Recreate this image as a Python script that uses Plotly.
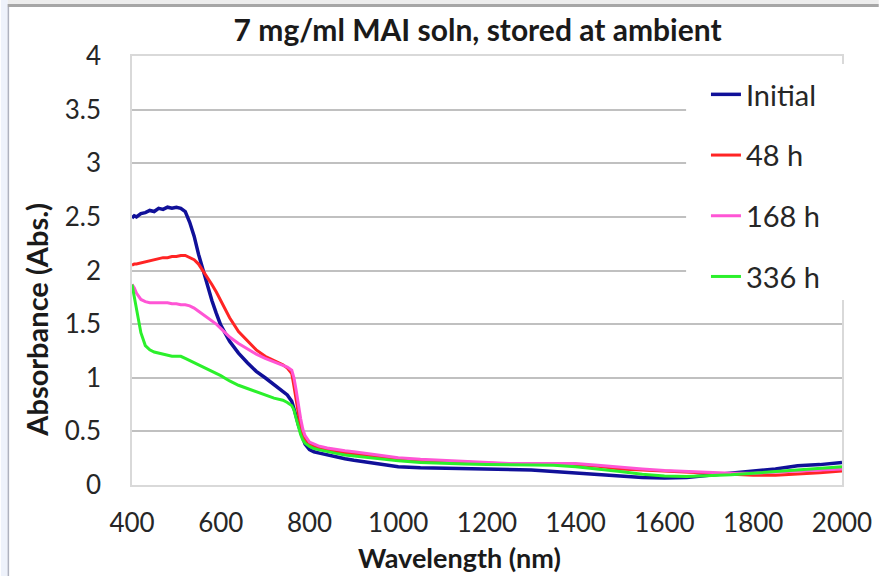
import plotly.graph_objects as go

# ---------------- data ----------------
wavelength = [400, 405, 410, 420, 430, 440, 450, 460, 470, 480, 490, 500, 510, 520, 530, 540,
              550, 560, 570, 580, 590, 600, 620, 640, 660, 680, 700, 720, 740, 750, 760, 765,
              770, 775, 780, 785, 790, 800, 810, 820, 840, 860, 880, 900, 950, 1000, 1050,
              1100, 1150, 1200, 1250, 1300, 1350, 1400, 1450, 1500, 1550, 1600, 1650, 1700,
              1750, 1800, 1850, 1900, 1950, 2000]

abs_initial = [2.49, 2.51, 2.50, 2.53, 2.54, 2.56, 2.55, 2.58, 2.57, 2.59, 2.58, 2.59, 2.58, 2.55, 2.45, 2.32,
               2.15, 2.00, 1.86, 1.72, 1.60, 1.49, 1.34, 1.23, 1.14, 1.06, 1.00, 0.94, 0.88, 0.84, 0.78, 0.72,
               0.64, 0.56, 0.50, 0.43, 0.38, 0.33, 0.31, 0.30, 0.28, 0.26, 0.245, 0.23, 0.20, 0.17, 0.16,
               0.155, 0.15, 0.145, 0.14, 0.14, 0.125, 0.11, 0.095, 0.08, 0.07, 0.065, 0.07, 0.09,
               0.11, 0.13, 0.15, 0.18, 0.19, 0.21]

abs_48h = [2.05, 2.06, 2.06, 2.07, 2.08, 2.09, 2.10, 2.11, 2.12, 2.12, 2.13, 2.13, 2.14, 2.14, 2.12, 2.10,
           2.06, 2.00, 1.94, 1.87, 1.80, 1.72, 1.56, 1.43, 1.34, 1.26, 1.20, 1.16, 1.12, 1.09, 1.04, 0.92,
           0.78, 0.64, 0.54, 0.47, 0.42, 0.38, 0.36, 0.35, 0.33, 0.315, 0.30, 0.29, 0.265, 0.245, 0.23,
           0.22, 0.21, 0.20, 0.195, 0.19, 0.19, 0.19, 0.175, 0.15, 0.14, 0.13, 0.12, 0.11,
           0.10, 0.09, 0.09, 0.10, 0.115, 0.13]

abs_168h = [1.87, 1.84, 1.79, 1.73, 1.71, 1.70, 1.70, 1.70, 1.70, 1.70, 1.69, 1.69, 1.68, 1.68, 1.67, 1.65,
            1.62, 1.59, 1.56, 1.53, 1.50, 1.46, 1.38, 1.32, 1.27, 1.22, 1.18, 1.15, 1.12, 1.10, 1.07, 1.00,
            0.88, 0.74, 0.62, 0.52, 0.46, 0.40, 0.38, 0.365, 0.345, 0.33, 0.32, 0.31, 0.28, 0.255, 0.24,
            0.23, 0.215, 0.205, 0.20, 0.20, 0.20, 0.20, 0.185, 0.165, 0.15, 0.135, 0.125, 0.115,
            0.11, 0.11, 0.12, 0.13, 0.14, 0.15]

abs_336h = [1.87, 1.75, 1.62, 1.42, 1.30, 1.26, 1.24, 1.23, 1.22, 1.21, 1.20, 1.20, 1.20, 1.18, 1.16, 1.14,
            1.12, 1.10, 1.08, 1.06, 1.04, 1.02, 0.97, 0.93, 0.90, 0.87, 0.84, 0.81, 0.79, 0.77, 0.74, 0.70,
            0.62, 0.54, 0.47, 0.42, 0.39, 0.36, 0.34, 0.33, 0.31, 0.295, 0.28, 0.27, 0.245, 0.225, 0.21,
            0.20, 0.195, 0.19, 0.19, 0.19, 0.185, 0.17, 0.15, 0.125, 0.10, 0.085, 0.08, 0.085,
            0.095, 0.11, 0.125, 0.145, 0.16, 0.17]

series_names = ["Initial", "48 h", "168 h", "336 h"]
series_values = [abs_initial, abs_48h, abs_168h, abs_336h]
series_colors = ["#101099", "#ff2424", "#ff55d5", "#2bf02b"]
series_widths = [3.5, 3, 3, 3]

x_ticks = [400, 600, 800, 1000, 1200, 1400, 1600, 1800, 2000]
y_ticks = [0, 0.5, 1, 1.5, 2, 2.5, 3, 3.5, 4]
y_tick_labels = ["0", "0.5", "1", "1.5", "2", "2.5", "3", "3.5", "4"]

title_text = "7 mg/ml MAI soln, stored at ambient"
x_title = "Wavelength (nm)"
y_title = "Absorbance (Abs.)"

# ---------------- layout geometry ----------------
W, H = 884, 576
L, R, T, B = 132, 847, 56, 485  # plot area in pixels


def px_x(p):
    return (p - L) / (R - L)


def px_y(p):
    return (B - p) / (B - T)


FONT = "Lato"
TEXT = "#262626"

fig = go.Figure()
for i, (name, vals, col, w) in enumerate(zip(series_names, series_values, series_colors, series_widths)):
    fig.add_trace(go.Scatter(x=wavelength, y=vals, mode="lines", name=name,
                             legendgroup=f"g{i}",
                             line=dict(color=col, width=w)))

fig.update_layout(
    width=W, height=H,
    margin=dict(l=L, r=W - R, t=T, b=H - B),
    paper_bgcolor="white", plot_bgcolor="white",
    font=dict(family=FONT, color=TEXT, size=26),
    showlegend=True,
    legend=dict(x=px_x(710), y=px_y(69), xanchor="left", yanchor="top",
                bgcolor="rgba(0,0,0,0)", borderwidth=0,
                font=dict(family=FONT, size=29, color=TEXT),
                tracegroupgap=20, itemwidth=30),
    title=dict(text=title_text, x=px_x(480), xref="paper", xanchor="center",
               y=1 - 30 / H, yref="container", yanchor="middle",
               font=dict(family=FONT, size=30, color="#1a1a1a", weight="bold")),
)

fig.update_xaxes(range=[400, 2000], tickvals=x_ticks, showgrid=False, zeroline=False,
                 showline=True, linecolor="#d9d9d9", linewidth=1.5, mirror=True,
                 ticks="", ticklabelstandoff=14,
                 tickfont=dict(family=FONT, size=26, color=TEXT))
fig.update_yaxes(range=[0, 4], tickvals=y_ticks, ticktext=y_tick_labels,
                 showgrid=True, gridcolor="#c0c0c0", gridwidth=1.8, zeroline=False,
                 showline=True, linecolor="#d9d9d9", linewidth=1.5, mirror=True,
                 ticks="", ticklabelstandoff=24,
                 tickfont=dict(family=FONT, size=26, color=TEXT))

# axis titles
fig.add_annotation(text=f"<b>{x_title}</b>", xref="paper", yref="paper",
                   x=px_x(462), y=px_y(557), xanchor="center", yanchor="middle",
                   showarrow=False, font=dict(family=FONT, size=27, color="#1a1a1a"))
fig.add_annotation(text=f"<b>{y_title}</b>", xref="paper", yref="paper",
                   x=px_x(35), y=px_y(320), xanchor="center", yanchor="middle",
                   textangle=-90, showarrow=False, font=dict(family=FONT, size=29, color="#1a1a1a"))

# white box behind legend (covers gridlines and frame as in reference)
fig.add_shape(type="rect", xref="paper", yref="paper", layer="above",
              x0=px_x(690), x1=px_x(852), y0=px_y(300), y1=px_y(64),
              fillcolor="white", line=dict(width=0))

# page decorations: left band and top rule
fig.add_shape(type="rect", xref="paper", yref="paper", layer="above",
              x0=px_x(0), x1=px_x(7), y0=px_y(H), y1=px_y(0),
              fillcolor="#eef2fb", line=dict(width=0))
fig.add_shape(type="line", xref="paper", yref="paper", layer="above",
              x0=px_x(7.5), x1=px_x(7.5), y0=px_y(H), y1=px_y(4),
              line=dict(color="#aeb2bf", width=1.5))
fig.add_shape(type="rect", xref="paper", yref="paper", layer="above",
              x0=px_x(7), x1=px_x(W), y0=px_y(4), y1=px_y(0),
              fillcolor="#ededed", line=dict(width=0))
fig.add_shape(type="line", xref="paper", yref="paper", layer="above",
              x0=px_x(7), x1=px_x(W), y0=px_y(5.5), y1=px_y(5.5),
              line=dict(color="#a6a6a6", width=3))

fig.write_html("out.html")
